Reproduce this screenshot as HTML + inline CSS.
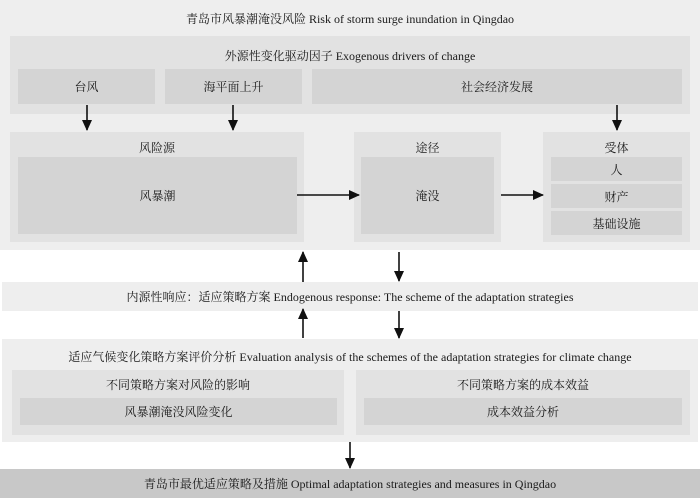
<!DOCTYPE html>
<html><head><meta charset="utf-8"><style>
body{margin:0;width:700px;height:498px;background:#fff;position:relative;overflow:hidden;font-family:"Liberation Serif","Noto Serif CJK SC",serif;font-size:12px;color:#1a1a1a}
.b{position:absolute;display:flex;align-items:center;justify-content:center;white-space:nowrap}
.l1{background:#eeeeee}.l2{background:#e2e2e2}.l3{background:#d4d4d4}
svg{position:absolute;left:0;top:0}
</style></head><body>
<div class="b l1" style="left:0;top:0;width:700px;height:250px"></div>
<div class="b" style="left:0;top:8px;width:700px;height:20px">青岛市风暴潮淹没风险 Risk of storm surge inundation in Qingdao</div>
<div class="b l2" style="left:10px;top:36px;width:680px;height:78px"></div>
<div class="b" style="left:10px;top:45px;width:680px;height:20px">外源性变化驱动因子 Exogenous drivers of change</div>
<div class="b l3" style="left:18px;top:69px;width:137px;height:35px">台风</div>
<div class="b l3" style="left:165px;top:69px;width:137px;height:35px">海平面上升</div>
<div class="b l3" style="left:312px;top:69px;width:370px;height:35px">社会经济发展</div>
<div class="b l2" style="left:10px;top:132px;width:294px;height:110px"></div>
<div class="b" style="left:10px;top:137px;width:294px;height:20px">风险源</div>
<div class="b l3" style="left:18px;top:157px;width:279px;height:77px">风暴潮</div>
<div class="b l2" style="left:354px;top:132px;width:147px;height:110px"></div>
<div class="b" style="left:354px;top:137px;width:147px;height:20px">途径</div>
<div class="b l3" style="left:361px;top:157px;width:133px;height:77px">淹没</div>
<div class="b l2" style="left:543px;top:132px;width:147px;height:110px"></div>
<div class="b" style="left:543px;top:137px;width:147px;height:20px">受体</div>
<div class="b l3" style="left:551px;top:157px;width:131px;height:24px">人</div>
<div class="b l3" style="left:551px;top:184px;width:131px;height:24px">财产</div>
<div class="b l3" style="left:551px;top:211px;width:131px;height:24px">基础设施</div>
<div class="b l1" style="left:2px;top:282px;width:696px;height:29px">内源性响应：适应策略方案 Endogenous response: The scheme of the adaptation strategies</div>
<div class="b l1" style="left:2px;top:339px;width:696px;height:103px"></div>
<div class="b" style="left:2px;top:346px;width:696px;height:20px">适应气候变化策略方案评价分析 Evaluation analysis of the schemes of the adaptation strategies for climate change</div>
<div class="b l2" style="left:12px;top:370px;width:332px;height:65px"></div>
<div class="b" style="left:12px;top:374px;width:332px;height:20px">不同策略方案对风险的影响</div>
<div class="b l3" style="left:20px;top:398px;width:317px;height:27px">风暴潮淹没风险变化</div>
<div class="b l2" style="left:356px;top:370px;width:334px;height:65px"></div>
<div class="b" style="left:356px;top:374px;width:334px;height:20px">不同策略方案的成本效益</div>
<div class="b l3" style="left:364px;top:398px;width:318px;height:27px">成本效益分析</div>
<div class="b" style="left:0;top:469px;width:700px;height:29px;background:#c8c8c8">青岛市最优适应策略及措施 Optimal adaptation strategies and measures in Qingdao</div>
<svg width="700" height="498"><defs><marker id="a" markerWidth="11" markerHeight="10" refX="10" refY="5" orient="auto" markerUnits="userSpaceOnUse" viewBox="0 0 11 10"><path d="M0,0L11,5L0,10z" fill="#111"/></marker></defs>
<g stroke="#111" stroke-width="1.6" marker-end="url(#a)">
<line x1="87" y1="105" x2="87" y2="130"/><line x1="233" y1="105" x2="233" y2="130"/><line x1="617" y1="105" x2="617" y2="130"/>
<line x1="297" y1="195" x2="359" y2="195"/><line x1="501" y1="195" x2="543" y2="195"/>
<line x1="303" y1="282" x2="303" y2="252"/><line x1="399" y1="252" x2="399" y2="281"/>
<line x1="303" y1="338" x2="303" y2="309"/><line x1="399" y1="311" x2="399" y2="338"/>
<line x1="350" y1="442" x2="350" y2="468"/>
</g></svg>
</body></html>
